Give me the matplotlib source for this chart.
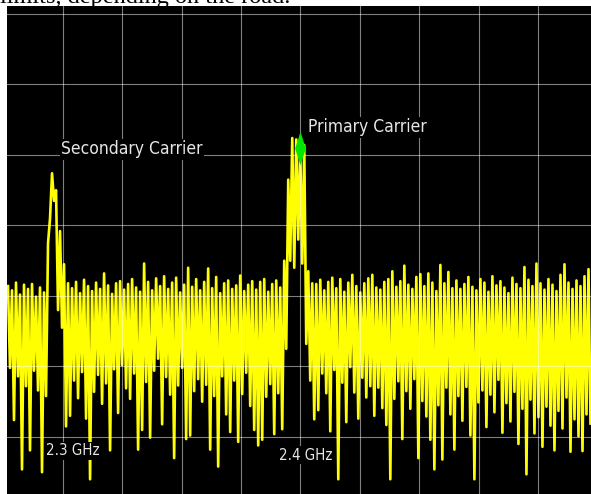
import numpy as np
import matplotlib
matplotlib.use('Agg')
import matplotlib.pyplot as plt

plt.rcParams['path.simplify'] = False

# Sweep: pairs of (upper, lower) samples in dBm, one pair per two sweep points
trace_hi = [
    -58.6, -59.2, -58.1, -59.8, -58.4, -59.0, -58.3, -60.1, -58.8, -59.5,
    -52.5, -42.6, -45.0, -50.8, -55.5, -58.2,
    -58.9, -58.0, -59.6, -57.7, -58.6, -59.3, -58.1, -59.0, -56.8, -58.5,
    -59.7, -58.2, -57.9, -59.1, -58.3, -57.6, -58.8, -59.4, -55.4, -58.0,
    -59.2, -57.5, -58.6, -57.2, -59.0, -58.1, -57.4, -59.5, -58.4, -56.0,
    -58.7, -57.6, -59.2, -58.0, -56.1, -58.9, -57.3, -59.6, -58.2, -57.8,
    -59.0, -58.5, -57.1, -59.3, -58.4, -57.9, -59.1, -58.0, -57.6, -59.4,
    -58.3, -57.8, -58.8, -55.0,
    -43.5, -37.6, -37.8, -39.0, -38.6, -56.5, -58.2,
    -58.3, -57.7, -59.2, -58.0, -57.4, -58.9, -57.6, -59.4, -58.1, -57.0,
    -58.6, -59.5, -58.2, -57.5, -57.0, -58.8, -59.1, -58.0, -57.6, -56.5,
    -58.7, -57.9, -55.7, -58.4, -59.0, -57.3, -56.9, -58.6, -56.8, -58.1,
    -59.3, -55.6, -58.2, -56.6, -58.9, -57.8, -59.0, -58.3, -57.3, -58.7,
    -59.2, -57.6, -58.1, -59.4, -57.2, -58.5, -57.9, -58.8, -59.6, -57.4,
    -58.3, -58.9, -55.9, -57.7, -58.6, -55.4, -58.2, -59.1, -57.6, -58.4,
    -59.3, -57.0, -55.5, -58.1, -59.0, -57.8, -58.6, -57.2, -56.2,
]
trace_lo = [
    -70.2, -77.6, -71.4, -84.6, -72.8, -81.9, -70.6, -73.4, -85.0, -74.2,
    -49.0, -46.5, -62.0, -64.5, -78.5, -77.0,
    -72.0, -74.5, -70.8, -77.4, -86.0, -73.6, -71.2, -75.3, -72.4, -81.9,
    -70.4, -76.6, -69.8, -73.1, -74.6, -71.0, -81.8, -79.0, -72.2, -80.1,
    -70.6, -68.9, -78.2, -71.5, -74.0, -83.0, -72.7, -70.2, -80.3, -79.8,
    -73.5, -71.8, -75.0, -72.6, -81.8, -74.2, -84.2, -71.4, -76.8, -79.3,
    -72.0, -80.7, -73.9, -70.9, -75.6, -79.0, -81.2, -80.4, -74.3, -72.5,
    -79.6, -73.8, -78.9, -67.5,
    -55.0, -56.0, -52.0, -55.4, -66.8, -72.0, -77.5,
    -76.2, -71.0, -73.8, -79.2, -70.5, -86.0, -72.3, -77.9, -70.1, -73.7,
    -77.4, -71.6, -74.4, -72.8, -77.0, -73.0, -75.9, -78.3, -86.0, -74.6,
    -72.1, -80.3, -73.5, -76.0, -71.8, -83.0, -74.9, -77.1, -80.4, -84.6,
    -75.5, -83.2, -73.0, -76.8, -81.8, -74.2, -77.7, -72.9, -79.8, -86.0,
    -75.1, -73.4, -78.6, -74.0, -76.5, -71.9, -79.4, -75.2, -77.8, -73.6,
    -81.0, -76.0, -85.3, -74.7, -79.5, -77.2, -81.4, -75.7, -78.4, -81.9,
    -76.3, -78.8, -74.4, -82.1, -77.5, -79.9, -82.0, -76.8, -78.1,
]

f_start, f_stop = 2282.0, 2517.0      # MHz
marker_freq = 2400.0
grid_freqs = [2304, 2328, 2352, 2376, 2400, 2424, 2448, 2472, 2496]
grid_levels = [-20, -30, -40, -50, -60, -70, -80]

trace = np.column_stack([trace_hi, trace_lo]).ravel()
freq = np.linspace(f_start, f_stop, trace.size)

fig = plt.figure(figsize=(5.91, 4.94), dpi=100, facecolor='white')
ax = fig.add_axes([7 / 591, 0, 584 / 591, 488 / 494])
ax.set_facecolor('black')

ax.plot(freq, trace, color='#ffff00', linewidth=1.9, zorder=2)

# screen graticule, drawn over the trace
for f in grid_freqs:
    ax.axvline(f, color='white', alpha=0.5, linewidth=0.8, zorder=3)
for lvl in grid_levels:
    ax.axhline(lvl, color='white', alpha=0.5, linewidth=0.8, zorder=3)

# marker on the primary carrier
mi = np.argmin(np.abs(freq - marker_freq))
diamond = [(0, 1), (0.32, 0), (0, -1), (-0.32, 0), (0, 1)]
ax.plot(freq[mi], trace[mi], marker=diamond, markersize=24, color='#00e600',
        markeredgewidth=0, zorder=4)

box = dict(facecolor='black', edgecolor='none', pad=1)
txt = dict(color='#e6e6e6', family='DejaVu Sans', fontstretch='condensed',
           va='baseline', ha='left', bbox=box, zorder=5)
ax.text(2303.4, -39.9, 'Secondary Carrier', fontsize=12.5, **txt)
ax.text(2403.0, -36.8, 'Primary Carrier', fontsize=12.5, **txt)
ax.text(2297.3, -82.6, '2.3 GHz', fontsize=10.8, **txt)
ax.text(2391.3, -83.2, '2.4 GHz', fontsize=10.8, **txt)

ax.set_xlim(2281.6, 2517.2)
ax.set_ylim(-88.09, -18.87)
ax.set_xticks([])
ax.set_yticks([])
for s in ax.spines.values():
    s.set_visible(False)

fig.text(0.0, 1 - 3 / 494, 'limits, depending on the road.', family='Liberation Serif',
         fontsize=17.5, color='black', va='baseline', ha='left', zorder=-1)

fig.savefig('out.png', dpi=100)
